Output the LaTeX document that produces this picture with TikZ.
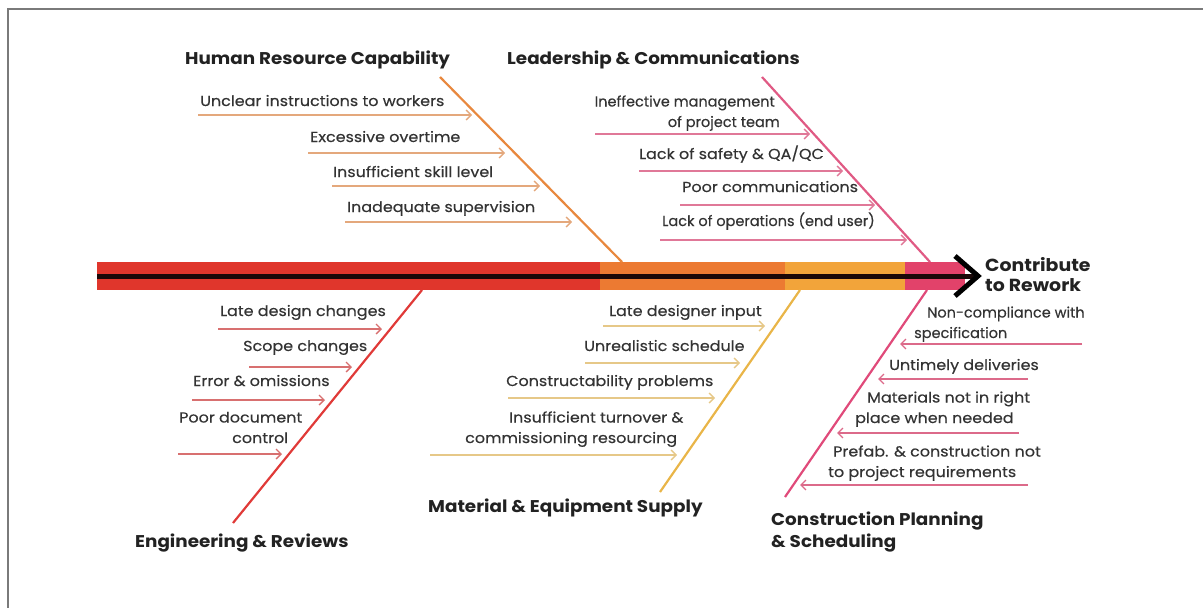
\documentclass[tikz,border=0pt]{standalone}
\usepackage{fontspec}
\setmainfont{Poppins}
\newfontfamily\itemfont{Poppins}[FakeStretch=1.1, FakeBold=0.35]
\newfontfamily\itemfontn{Poppins}[FakeStretch=1.0, FakeBold=0.35]
\newfontfamily\headfont{Poppins}[FakeStretch=1.08]
\usetikzlibrary{arrows.meta}
\definecolor{spred}{HTML}{E0362C}
\definecolor{sporange}{HTML}{EC7A32}
\definecolor{spyellow}{HTML}{F2A43A}
\definecolor{sppink}{HTML}{E2426A}
\definecolor{spblack}{HTML}{1A0808}
\definecolor{brorange}{HTML}{E8883E}
\definecolor{brpink}{HTML}{E05A84}
\definecolor{brred}{HTML}{E03A38}
\definecolor{bryellow}{HTML}{E9B548}
\definecolor{brpinkb}{HTML}{E04A7A}
\definecolor{arorange}{HTML}{E4A87C}
\definecolor{arpink}{HTML}{E07898}
\definecolor{arred}{HTML}{D87070}
\definecolor{aryellow}{HTML}{E6C888}
\definecolor{arpinkb}{HTML}{DC6A8A}
\definecolor{txt}{HTML}{333333}
\definecolor{headtxt}{HTML}{222222}
\definecolor{framegray}{HTML}{7A7A7A}
\begin{document}
\begin{tikzpicture}[x=1pt,y=-1pt,
  head/.style={font=\headfont\fontsize{17}{22}\selectfont\bfseries, text=headtxt, inner sep=0pt, anchor=base west},
  item/.style={font=\itemfont\fontsize{14.5}{20.5}\selectfont, text=txt, inner sep=0pt, anchor=base west},
  itemn/.style={item, font=\itemfontn\fontsize{14.5}{20.5}\selectfont},
  bone/.style={line width=2.2pt},
  sub/.style={line width=1.4pt, -{Straight Barb[length=5pt,width=10pt,line width=1.3pt]}},
]
\useasboundingbox (0,0) rectangle (1203,608);
% frame
\draw[framegray, line width=1.5pt] (7,9) -- (1203,9);
\draw[framegray, line width=1.5pt] (8,9) -- (8,608);

% spine
\fill[spred] (97,262) rectangle (600,290);
\fill[sporange] (600,262) rectangle (785,290);
\fill[spyellow] (785,262) rectangle (905,290);
\fill[sppink] (905,262) rectangle (965,290);
\coordinate (sL) at (97,276);
\coordinate (sR) at (975,276);
\coordinate (chT) at (955,256);
\coordinate (chB) at (955,296);
\coordinate (chTip) at (978,276);
\draw[spblack, line width=5pt] (sL) -- (sR);
\draw[black, line width=5pt, miter limit=10] (chT) -- (chTip) -- (chB);

% branches
\coordinate (hrA) at (440,77);  \coordinate (hrB) at (622,262);
\coordinate (lcA) at (762,77);  \coordinate (lcB) at (930,262);
\coordinate (erA) at (422,290); \coordinate (erB) at (233,523);
\coordinate (msA) at (800,290); \coordinate (msB) at (660,492);
\coordinate (cpA) at (927,290); \coordinate (cpB) at (785,497);
\draw[bone, brorange] (hrA) -- (hrB);
\draw[bone, brpink] (lcA) -- (lcB);
\draw[bone, brred] (erA) -- (erB);
\draw[bone, bryellow] (msA) -- (msB);
\draw[bone, brpinkb] (cpA) -- (cpB);

% headings
\node[head] (hHR) at (185,64) {Human Resource Capability};
\node[head] (hLC) at (507,64) {Leadership \& Communications};
\node[head] (hER) at (135,547) {Engineering \& Reviews};
\node[head] (hMS) at (428,512) {Material \& Equipment Supply};
\node[head, align=left] (hCP) at (771,547) {Construction Planning\\\& Scheduling};
\node[head, align=left, font=\headfont\fontsize{17.5}{20}\selectfont\bfseries] (hCR) at (985,291) {Contribute\\to Rework};

% Human resource
\node[item] (t1) at (200,106) {Unclear instructions to workers};
\node[item] (t2) at (310,142) {Excessive overtime};
\node[item] (t3) at (333,177) {Insufficient skill level};
\node[item] (t4) at (347,212) {Inadequate supervision};
\coordinate (a1s) at (198,115); \coordinate (a1e) at (472,115);
\coordinate (a2s) at (308,153); \coordinate (a2e) at (505,153);
\coordinate (a3s) at (332,186); \coordinate (a3e) at (540,186);
\coordinate (a4s) at (345,222); \coordinate (a4e) at (572,222);
\foreach \i in {1,2,3,4} \draw[sub, arorange] (a\i s) -- (a\i e);

% Leadership
\node[itemn, align=right, anchor=base east] (l1) at (780,127) {Ineffective management\hspace*{5pt}\\of project team};
\node[item] (l2) at (639,159) {Lack of safety \& QA/QC};
\node[item] (l3) at (682,192) {Poor communications};
\node[itemn] (l4) at (662,226) {Lack of operations (end user)};
\coordinate (b1s) at (595,134); \coordinate (b1e) at (810,134);
\coordinate (b2s) at (639,171); \coordinate (b2e) at (843,171);
\coordinate (b3s) at (680,205); \coordinate (b3e) at (875,205);
\coordinate (b4s) at (660,240); \coordinate (b4e) at (907,240);
\foreach \i in {1,2,3,4} \draw[sub, arpink] (b\i s) -- (b\i e);

% Engineering
\node[item] (e1) at (220,316) {Late design changes};
\node[item] (e2) at (243,351) {Scope changes};
\node[item] (e3) at (193,386) {Error \& omissions};
\node[item, align=left] (e4) at (179,443) {Poor document\\\hspace*{53pt}control};
\coordinate (c1s) at (218,329); \coordinate (c1e) at (382,329);
\coordinate (c2s) at (249,367); \coordinate (c2e) at (352,367);
\coordinate (c3s) at (192,400); \coordinate (c3e) at (325,400);
\coordinate (c4s) at (178,454); \coordinate (c4e) at (282,454);
\foreach \i in {1,2,3,4} \draw[sub, arred] (c\i s) -- (c\i e);

% Material
\node[item] (m1) at (609,316) {Late designer input};
\node[item] (m2) at (584,351) {Unrealistic schedule};
\node[item] (m3) at (506,386) {Constructability problems};
\node[item, align=left] (m4) at (465,443) {\hspace*{44pt}Insufficient turnover \&\\commissioning resourcing};
\coordinate (d1s) at (603,326); \coordinate (d1e) at (765,326);
\coordinate (d2s) at (585,363); \coordinate (d2e) at (740,363);
\coordinate (d3s) at (508,398); \coordinate (d3e) at (715,398);
\coordinate (d4s) at (430,455); \coordinate (d4e) at (677,455);
\foreach \i in {1,2,3,4} \draw[sub, aryellow] (d\i s) -- (d\i e);

% Construction
\node[itemn, align=left] (p1) at (914,338) {\hspace*{13pt}Non-compliance with\\specification};
\node[item] (p2) at (889,370) {Untimely deliveries};
\node[item, align=left] (p3) at (855,423) {\hspace*{12pt}Materials not in right\\place when needed};
\node[item, align=left] (p4) at (828,477) {\hspace*{5pt}Prefab. \& construction not\\to project requirements};
\coordinate (f1s) at (1082,344); \coordinate (f1e) at (900,344);
\coordinate (f2s) at (1028,379); \coordinate (f2e) at (878,379);
\coordinate (f3s) at (1019,433); \coordinate (f3e) at (837,433);
\coordinate (f4s) at (1028,485); \coordinate (f4e) at (800,485);
\foreach \i in {1,2,3,4} \draw[sub, arpinkb] (f\i s) -- (f\i e);
\end{tikzpicture}
\end{document}
